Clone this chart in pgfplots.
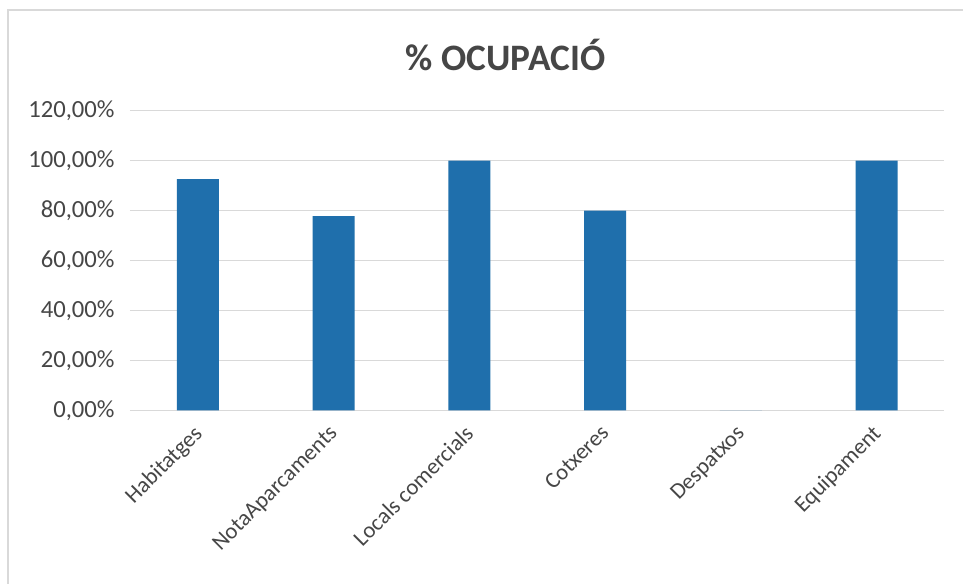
\documentclass[border=0pt]{standalone}
\usepackage{pgfplots}
\pgfplotsset{compat=1.18}
\usepackage{fontspec}
\setmainfont{Carlito}
\definecolor{barblue}{RGB}{31,111,172}
\definecolor{txtgray}{RGB}{70,70,70}
\definecolor{gridgray}{RGB}{217,217,217}

\begin{document}
\begin{tikzpicture}[x=0.75pt,y=0.75pt]
  % canvas and chart-area frame
  \fill[white] (0,0) rectangle (964,584);
  \draw[gridgray, line width=0.9pt] (8,0) -- (8,574) -- (964,574);
  % title
  \node[font=\fontsize{28}{31}\selectfont\bfseries, text=txtgray] at (506,529) {\% OCUPACIÓ};
  \begin{axis}[
    at={(130pt*0.75,173.3pt*0.75)}, anchor=south west,
    scale only axis, width=611.25pt, height=225pt,
    ybar, bar width=31.5pt,
    xmin=-0.5, xmax=5.5, ymin=0, ymax=120,
    ytick={0,20,40,60,80,100,120},
    yticklabels={{0,00\%},{20,00\%},{40,00\%},{60,00\%},{80,00\%},{100,00\%},{120,00\%}},
    xtick={0,1,2,3,4,5},
    xticklabels={Habitatges,NotaAparcaments,Locals comercials,Cotxeres,Despatxos,Equipament},
    ymajorgrids, grid style={gridgray, line width=0.9pt},
    axis line style={draw=none},
    major tick length=0pt,
    y tick label style={font=\fontsize{18.5}{21}\selectfont, text=txtgray, xshift=-8pt},
    x tick label style={font=\fontsize{17}{20}\selectfont, text=txtgray,
      rotate=45, anchor=north east, inner sep=1pt, xshift=-9pt, yshift=-3pt},
    clip=false,
  ]
    \addplot[fill=barblue, draw=none] coordinates
      {(0,92.6) (1,77.8) (2,100) (3,80) (4,0) (5,100)};
  \end{axis}
\end{tikzpicture}
\end{document}
